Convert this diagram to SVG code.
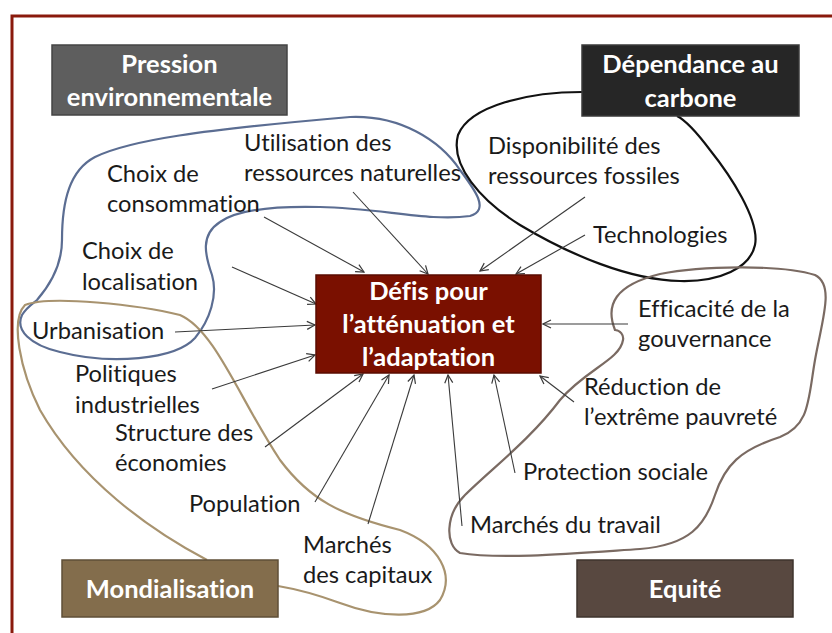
<svg xmlns="http://www.w3.org/2000/svg" width="832" height="633" viewBox="0 0 832 633">
<defs>
<style>
.lbl{font-family:Lato,"Liberation Sans",sans-serif;font-size:23.7px;fill:#1a1a1a;font-variant-ligatures:none}
.hd{font-family:Lato,"Liberation Sans",sans-serif;font-size:25.5px;font-weight:bold;fill:#ffffff;text-anchor:middle;font-variant-ligatures:none}
.arr{stroke:#3a3a3a;stroke-width:1.1;fill:none;marker-end:url(#ah)}
.blob{fill:none;stroke-width:2.2}
</style>
<marker id="ah" viewBox="0 0 10 10" refX="9" refY="5" markerWidth="10" markerHeight="10" markerUnits="userSpaceOnUse" orient="auto">
<path d="M1,1 L9,5 L1,9" fill="none" stroke="#3a3a3a" stroke-width="1.2"/>
</marker>
</defs>
<rect x="0" y="0" width="832" height="633" fill="#ffffff"/>
<rect x="12" y="16" width="840" height="640" fill="none" stroke="#8a1a0c" stroke-width="3"/>

<g id="blobs">
<path class="blob" stroke="#5b6d92" d="M 37,300 C 50,285 62,265 62,240 C 62,200 70,170 95,157 C 130,140 200,130 350,117 C 400,115 440,140 460,170 C 475,190 490,210 470,216 C 430,222 380,208 320,207 C 280,206 240,208 220,222 C 200,235 205,255 212,275 C 218,295 210,320 195,338 C 175,360 110,365 60,352 C 30,345 15,330 22,315 C 26,308 32,304 37,300 Z"/>
<path class="blob" stroke="#111111" d="M 582,92 C 530,92 470,105 458,135 C 450,165 480,200 520,225 C 570,255 630,280 680,281 C 720,282 750,268 755,245 C 760,220 730,175 710,150 C 695,130 685,120 677,116"/>
<path class="blob" stroke="#a8936f" d="M 207,560 C 150,530 80,480 40,410 C 20,370 10,320 25,305 C 50,295 140,305 180,315 C 215,330 240,400 280,460 C 310,500 340,515 400,530 C 440,545 455,575 440,600 C 425,620 380,618 340,603 C 310,592 290,588 278,586"/>
<path class="blob" stroke="#7a6a62" d="M 615,330 C 605,305 615,285 660,274 C 700,266 780,264 815,275 C 835,285 822,320 815,360 C 808,400 810,425 780,437 C 740,450 725,465 715,495 C 705,525 690,545 640,549 C 580,553 500,560 460,553 C 445,545 445,515 465,495 C 490,470 530,440 560,400 C 585,370 620,360 623,340 C 624,335 620,330 615,330 Z"/>
</g>

<g id="connectors">
<path class="arr" d="M264,217 L364,272"/>
<path class="arr" d="M353,192 L428,274"/>
<path class="arr" d="M585,197 L480,271"/>
<path class="arr" d="M585,235 L516,274"/>
<path class="arr" d="M232,267 L316,304"/>
<path class="arr" d="M175,332 L315,325"/>
<path class="arr" d="M212,389 L315,355"/>
<path class="arr" d="M265,447 L363,374"/>
<path class="arr" d="M315,502 L389,375"/>
<path class="arr" d="M368,524 L414,375"/>
<path class="arr" d="M462,526 L448,375"/>
<path class="arr" d="M515,473 L494,375"/>
<path class="arr" d="M574,402 L540,376"/>
<path class="arr" d="M628,324 L543,324"/>
</g>

<g id="pression">
<rect x="52" y="45" width="235" height="70" fill="#5e5e5e" stroke="#444444" stroke-width="1.5"/>
<text class="hd" x="169.5" y="73">Pression</text>
<text class="hd" x="169.5" y="106">environnementale</text>
</g>
<g id="dependance">
<rect x="582" y="45" width="217" height="71" fill="#262626" stroke="#3a3a3a" stroke-width="1.5"/>
<text class="hd" x="690.5" y="73">Dépendance au</text>
<text class="hd" x="690.5" y="107">carbone</text>
</g>
<g id="mondialisation">
<rect x="62" y="560" width="216" height="57" fill="#836d4c" stroke="#5f4f37" stroke-width="1.5"/>
<text class="hd" x="170" y="598">Mondialisation</text>
</g>
<g id="equite">
<rect x="577" y="560" width="216" height="57" fill="#584840" stroke="#3e332d" stroke-width="1.5"/>
<text class="hd" x="685" y="598">Equité</text>
</g>
<g id="defis">
<rect x="316" y="275" width="225" height="98" fill="#7a1000" stroke="#5a0b00" stroke-width="1.5"/>
<text class="hd" x="428.5" y="300">Défis pour</text>
<text class="hd" x="428.5" y="333">l’atténuation et</text>
<text class="hd" x="428.5" y="366">l’adaptation</text>
</g>

<g id="labels">
<text class="lbl" x="244" y="151">Utilisation des</text>
<text class="lbl" x="244" y="181">ressources naturelles</text>
<text class="lbl" x="107" y="182">Choix de</text>
<text class="lbl" x="107" y="212">consommation</text>
<text class="lbl" x="82" y="259">Choix de</text>
<text class="lbl" x="82" y="290">localisation</text>
<text class="lbl" x="32" y="339">Urbanisation</text>
<text class="lbl" x="75" y="382">Politiques</text>
<text class="lbl" x="75" y="413">industrielles</text>
<text class="lbl" x="115" y="441">Structure des</text>
<text class="lbl" x="115" y="471">économies</text>
<text class="lbl" x="189" y="512">Population</text>
<text class="lbl" x="303" y="553">Marchés</text>
<text class="lbl" x="303" y="583">des capitaux</text>
<text class="lbl" x="488" y="154">Disponibilité des</text>
<text class="lbl" x="488" y="184">ressources fossiles</text>
<text class="lbl" x="593" y="243">Technologies</text>
<text class="lbl" x="638" y="317">Efficacité de la</text>
<text class="lbl" x="638" y="347">gouvernance</text>
<text class="lbl" x="584" y="395">Réduction de</text>
<text class="lbl" x="584" y="425">l’extrême pauvreté</text>
<text class="lbl" x="523" y="480">Protection sociale</text>
<text class="lbl" x="470" y="533">Marchés du travail</text>
</g>
</svg>
